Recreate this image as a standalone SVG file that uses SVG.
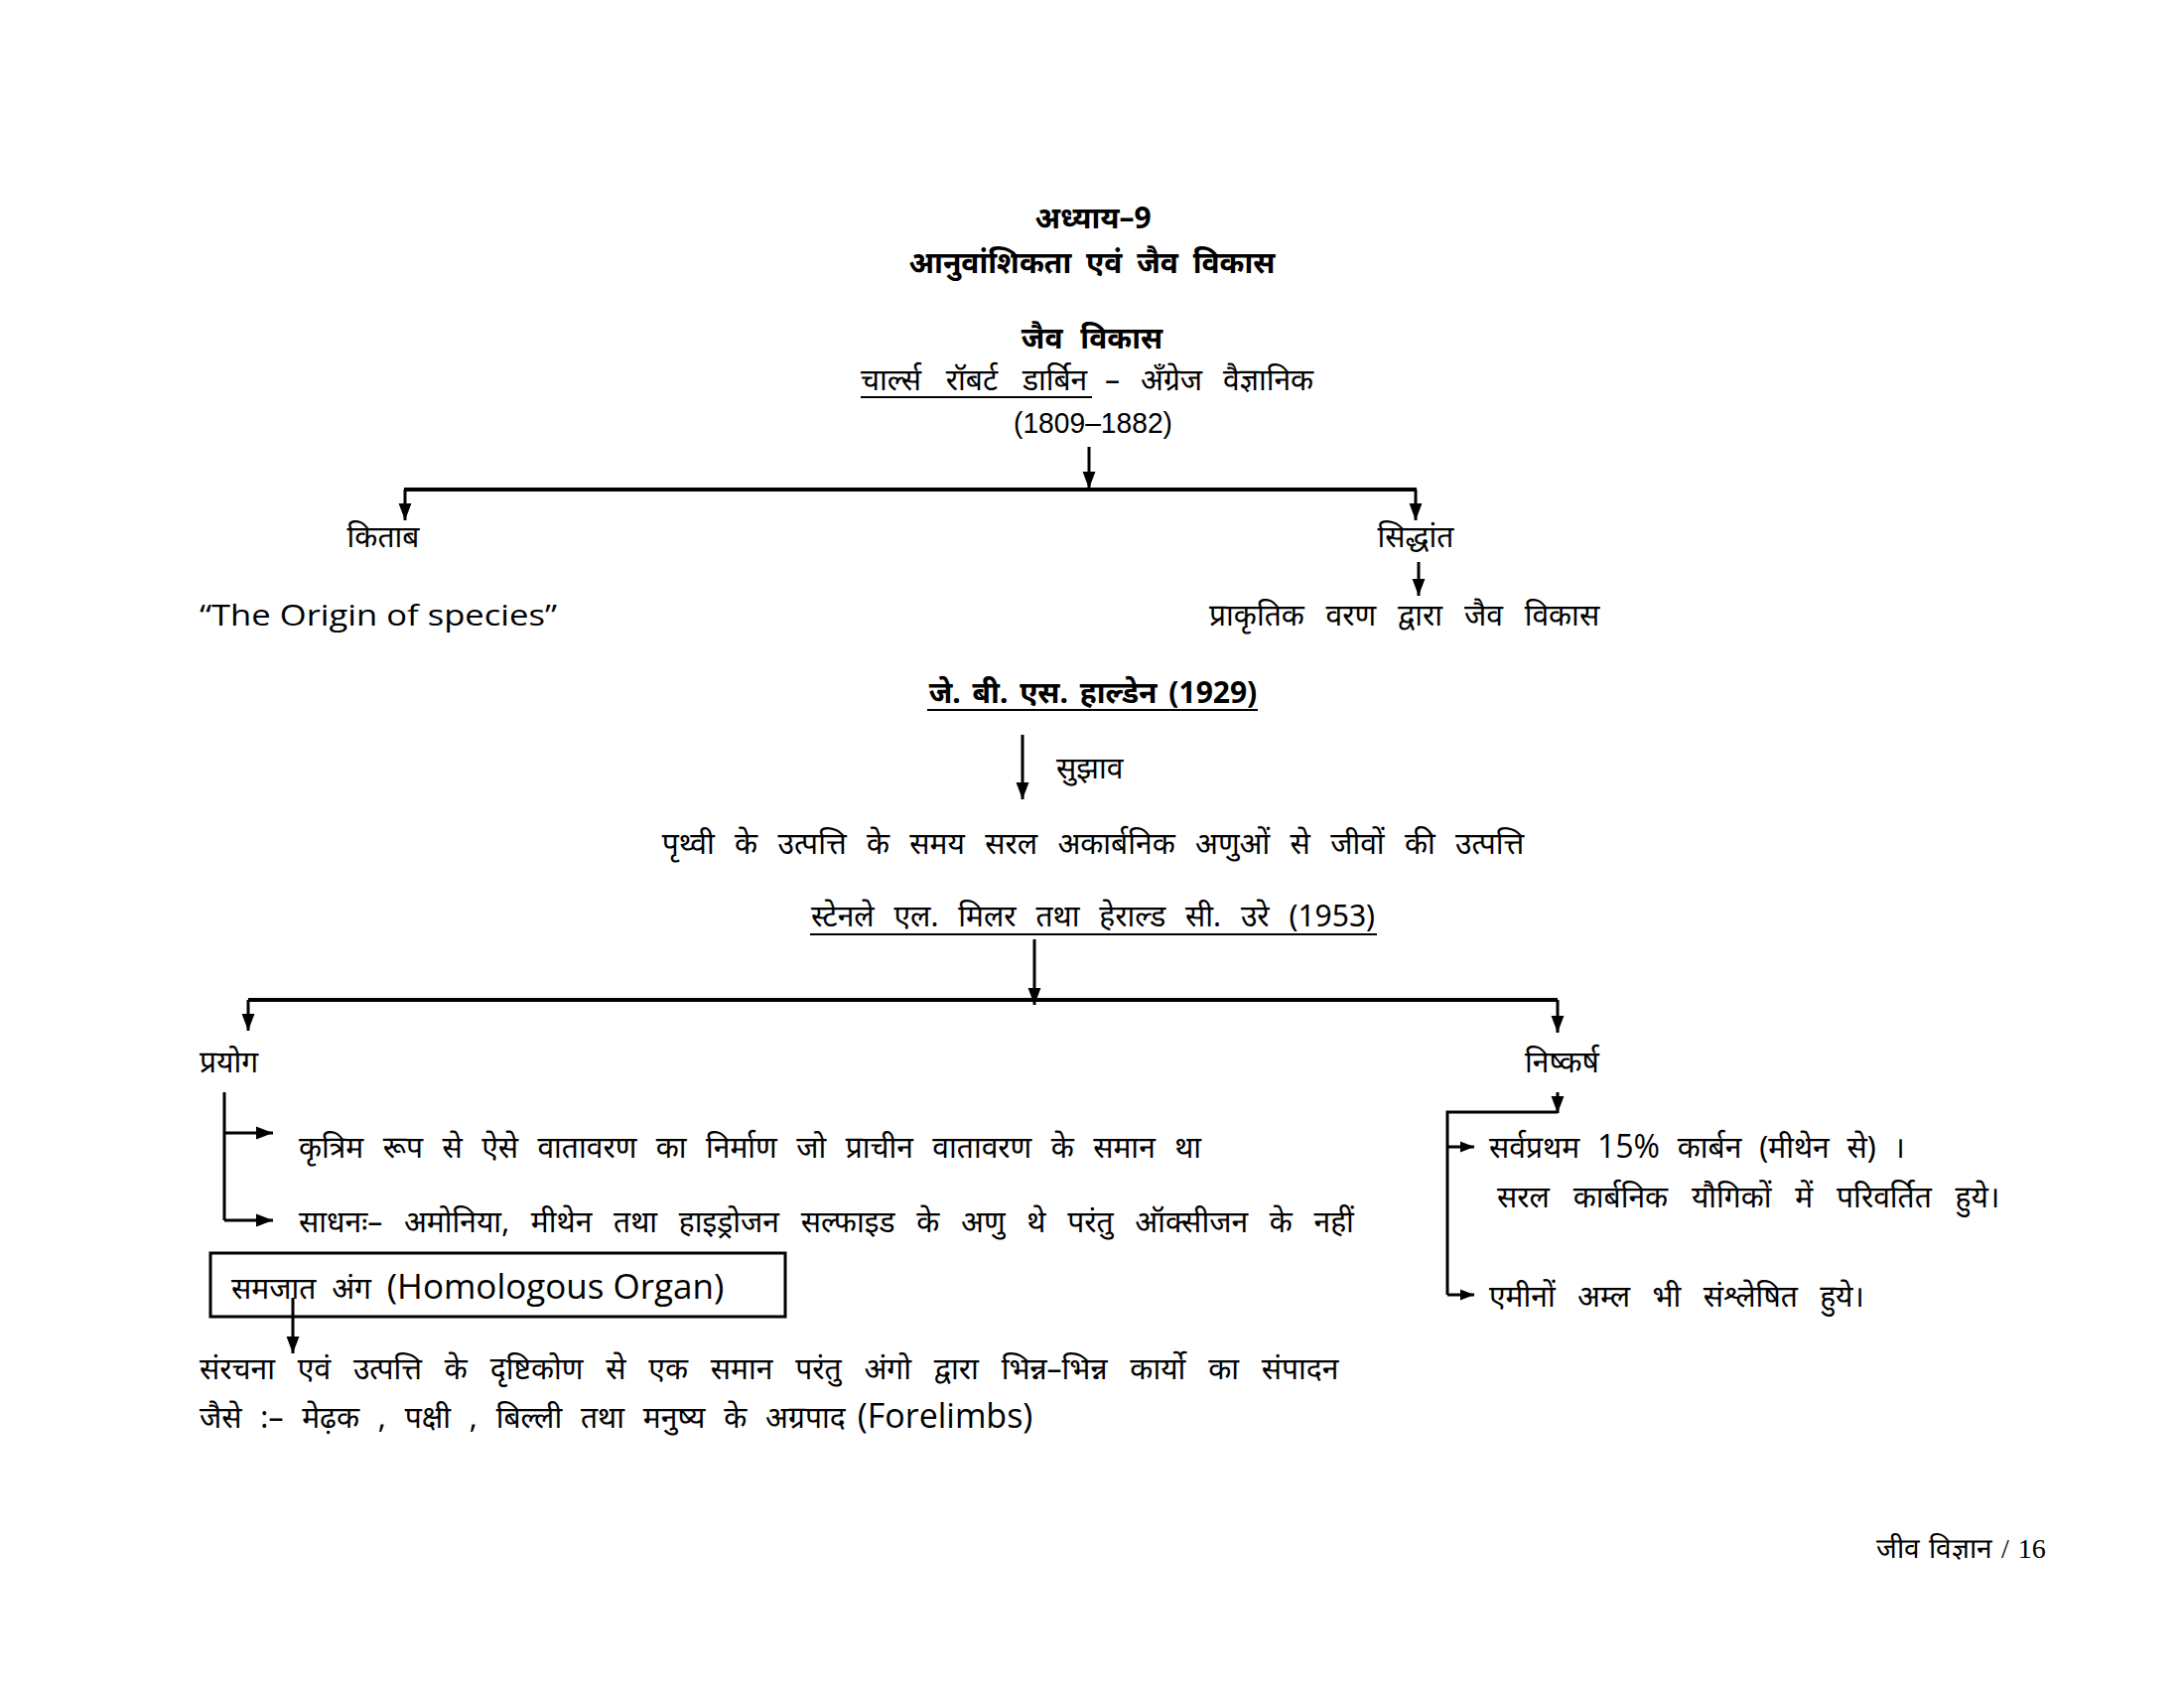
<svg xmlns="http://www.w3.org/2000/svg" width="2200" height="1700" viewBox="0 0 2200 1700">
<defs>
<marker id="ahb" viewBox="0 0 10 10" refX="10" refY="5" markerWidth="17" markerHeight="17" markerUnits="userSpaceOnUse" orient="auto">
<path d="M0,1.2 L10,5 L0,8.8 Z" fill="#000"/>
</marker>
<marker id="ahs" viewBox="0 0 10 10" refX="10" refY="5" markerWidth="14" markerHeight="14" markerUnits="userSpaceOnUse" orient="auto">
<path d="M0,1 L10,5 L0,9 Z" fill="#000"/>
</marker>
</defs>
<style>
text{font-family:"Noto Sans","DejaVu Sans",sans-serif;font-size:30px;fill:#000}
.b{font-weight:bold}
.c{text-anchor:middle}
.lat{font-family:"Open Sans","Noto Sans",sans-serif}
.num{font-family:"Liberation Sans",Arial,sans-serif}
.ser{font-family:"Liberation Serif","DejaVu Serif",serif;font-size:28px}
.ln{stroke:#000;stroke-width:4;fill:none}
.br{stroke:#000;stroke-width:3;fill:none}
.ar{stroke:#000;stroke-width:3;fill:none;marker-end:url(#ahb)}
.as{stroke:#000;stroke-width:3;fill:none;marker-end:url(#ahs)}
.ul{stroke:#000;stroke-width:2}
</style>
<rect width="2200" height="1700" fill="#fff"/>

<g id="title">
<text class="b c" x="1101" y="230">अध्याय–9</text>
<text class="b c" x="1100" y="275" word-spacing="7">आनुवांशिकता एवं जैव विकास</text>
</g>
<g id="jaiv-vikas">
<text class="b c" x="1100" y="351" word-spacing="10">जैव विकास</text>
</g>
<g id="darwin">
<text x="867" y="393" word-spacing="17">चार्ल्स रॉबर्ट डार्बिन<tspan x="1113">–</tspan><tspan x="1149">अँग्रेज</tspan><tspan x="1232">वैज्ञानिक</tspan></text>
<line class="ul" x1="867" y1="400" x2="1100" y2="400"/>
<text class="c num" x="1101" y="436" textLength="160" lengthAdjust="spacingAndGlyphs">(1809–1882)</text>
</g>
<g id="kitab"><text class="c" x="386" y="551">किताब</text></g>
<g id="siddhant"><text class="c" x="1426" y="551">सिद्धांत</text></g>
<g id="origin"><text class="lat" x="201" y="630" font-size="33" textLength="360" lengthAdjust="spacingAndGlyphs">“The Origin of species”</text></g>
<g id="prakritik"><text x="1218" y="630" word-spacing="14">प्राकृतिक वरण द्वारा जैव विकास</text></g>
<g id="haldane">
<text class="b c" x="1101" y="708" word-spacing="4">जे. बी. एस. हाल्डेन (1929)</text>
<line class="ul" x1="934" y1="715" x2="1267" y2="715" stroke-width="3"/>
</g>
<g id="sujhav"><text x="1064" y="784">सुझाव</text></g>
<g id="prithvi"><text class="c" x="1101" y="860" word-spacing="12.5">पृथ्वी के उत्पत्ति के समय सरल अकार्बनिक अणुओं से जीवों की उत्पत्ति</text></g>
<g id="miller">
<text class="c" x="1101" y="933" word-spacing="12">स्टेनले एल. मिलर तथा हेराल्ड सी. उरे (1953)</text>
<line class="ul" x1="816" y1="941" x2="1387" y2="941"/>
</g>
<g id="prayog"><text x="201" y="1080">प्रयोग</text></g>
<g id="nishkarsh"><text x="1536" y="1080">निष्कर्ष</text></g>
<g id="prayog-1"><text x="301" y="1166" word-spacing="11.6">कृत्रिम रूप से ऐसे वातावरण का निर्माण जो प्राचीन वातावरण के समान था</text></g>
<g id="prayog-2"><text x="301" y="1241" word-spacing="13.9">साधनः– अमोनिया, मीथेन तथा हाइड्रोजन सल्फाइड के अणु थे परंतु ऑक्सीजन के नहीं</text></g>
<g id="samjat">
<rect x="212" y="1262" width="579" height="64" fill="none" stroke="#000" stroke-width="3"/>
<text x="233" y="1308" word-spacing="8">समजात अंग <tspan class="lat" font-size="35" word-spacing="0">(Homologous Organ)</tspan></text>
</g>
<g id="samjat-desc">
<text x="201" y="1389" word-spacing="15">संरचना एवं उत्पत्ति के दृष्टिकोण से एक समान परंतु अंगो द्वारा भिन्न–भिन्न कार्यो का संपादन</text>
<text x="201" y="1438" word-spacing="11">जैसे :– मेढ़क , पक्षी , बिल्ली तथा मनुष्य के अग्रपाद<tspan class="lat" font-size="34" word-spacing="0" dx="12">(Forelimbs)</tspan></text>
</g>
<g id="nishkarsh-1">
<text x="1500" y="1166" word-spacing="10">सर्वप्रथम <tspan class="lat" font-size="32">15%</tspan> कार्बन (मीथेन से) ।</text>
<text x="1508" y="1216" word-spacing="16">सरल कार्बनिक यौगिकों में परिवर्तित हुये।</text>
</g>
<g id="nishkarsh-2"><text x="1500" y="1316" word-spacing="14.5">एमीनों अम्ल भी संश्लेषित हुये।</text></g>
<g id="footer"><text class="ser" x="1890" y="1569" word-spacing="2">जीव विज्ञान / 16</text></g>

<g id="connectors">
<line class="ar" x1="1097" y1="450" x2="1097" y2="492"/>
<line class="ln" x1="407" y1="493" x2="1427" y2="493"/>
<line class="ar" x1="408" y1="493" x2="408" y2="524"/>
<line class="ar" x1="1426" y1="493" x2="1426" y2="524"/>
<line class="ar" x1="1429" y1="566" x2="1429" y2="600"/>
<line class="ar" x1="1030" y1="740" x2="1030" y2="805"/>
<line class="ar" x1="1042" y1="946" x2="1042" y2="1012"/>
<line class="ln" x1="250" y1="1007" x2="1569" y2="1007"/>
<line class="ar" x1="250" y1="1007" x2="250" y2="1038"/>
<line class="ar" x1="1569" y1="1007" x2="1569" y2="1040"/>
<path class="br" d="M226,1100 V1229"/>
<line class="ar" x1="226" y1="1141" x2="275" y2="1141"/>
<line class="ar" x1="226" y1="1229" x2="275" y2="1229"/>
<line class="ar" x1="295" y1="1307" x2="295" y2="1363"/>
<line class="ar" x1="1569" y1="1100" x2="1569" y2="1121"/>
<path class="br" d="M1569,1120 H1458 V1304"/>
<line class="as" x1="1458" y1="1155" x2="1485" y2="1155"/>
<line class="as" x1="1458" y1="1304" x2="1485" y2="1304"/>
</g>
</svg>
